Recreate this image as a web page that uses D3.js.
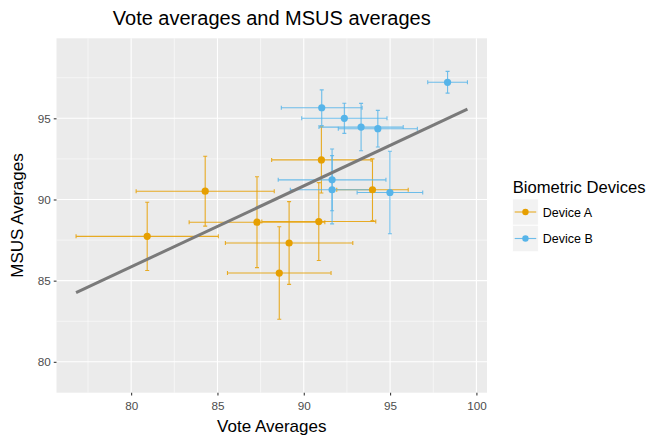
<!DOCTYPE html>
<html>
<head>
<meta charset="utf-8">
<script src="https://cdnjs.cloudflare.com/ajax/libs/d3/7.8.5/d3.min.js"></script>
<style>
    body { margin: 0; background: #fff; }
    svg { font-family: "Liberation Sans", Arial, sans-serif; }
</style>
</head>
<body>
<svg id="chart" width="649" height="437"></svg>
<script>
const devices = ["Device A", "Device B"]
const colors = ["#E69F00", "#56B4E9"]

// Device A
const voteA = [80.93, 84.29, 87.29, 90.87, 91.02, 93.98, 89.15, 88.58]
const voteErrA = [4.12, 4.0, 3.93, 3.3, 2.88, 2.07, 3.69, 3.0]
const msusA = [87.73, 90.51, 88.6, 88.64, 92.44, 90.6, 87.32, 85.47]
const msusErrA = [2.1, 2.15, 2.8, 2.4, 2.04, 1.9, 2.55, 2.85]

// Device B
const voteB = [98.33, 91.04, 92.35, 93.32, 94.29, 91.64, 91.64, 94.99]
const voteErrB = [1.15, 2.34, 2.47, 2.44, 2.29, 3.12, 2.42, 1.9]
const msusB = [97.22, 95.65, 95.0, 94.46, 94.36, 91.21, 90.6, 90.43]
const msusErrB = [0.67, 1.1, 0.93, 1.46, 1.13, 1.9, 2.1, 2.54]

const xTicks = [80, 85, 90, 95, 100]
const yTicks = [80, 85, 90, 95]

const rows = []
const addRows = (dev, xs, xe, ys, ye) => xs.forEach((x, i) => rows.push({ device: dev, x: x, xe: xe[i], y: ys[i], ye: ye[i] }))
addRows(devices[0], voteA, voteErrA, msusA, msusErrA)
addRows(devices[1], voteB, voteErrB, msusB, msusErrB)

const svg = d3.select("#chart")
const margin = { top: 38.3, right: 162, bottom: 44.3, left: 56.5 }
const width = +svg.attr("width") - margin.left - margin.right
const height = +svg.attr("height") - margin.top - margin.bottom

// linear fit over all points (lm with 95% band, band only used for the y range)
const n = rows.length
const mx = d3.mean(rows, d => d.x)
const my = d3.mean(rows, d => d.y)
const sxx = d3.sum(rows, d => (d.x - mx) ** 2)
const slope = d3.sum(rows, d => (d.x - mx) * (d.y - my)) / sxx
const intercept = my - slope * mx
const sse = d3.sum(rows, d => (d.y - intercept - slope * d.x) ** 2)
const s = Math.sqrt(sse / (n - 2))
const tq = 2.1448

const xRange = [d3.min(rows, d => d.x - d.xe), d3.max(rows, d => d.x + d.xe)]
const fit = d3.range(0, 81).map(i => {
    const x = xRange[0] + (xRange[1] - xRange[0]) * i / 80
    const yhat = intercept + slope * x
    const se = tq * s * Math.sqrt(1 / n + (x - mx) ** 2 / sxx)
    return { x: x, y: yhat, lo: yhat - se, hi: yhat + se }
})
const yRange = [
    Math.min(d3.min(rows, d => d.y - d.ye), d3.min(fit, d => d.lo)),
    Math.max(d3.max(rows, d => d.y + d.ye), d3.max(fit, d => d.hi))
]
const expand = r => [r[0] - 0.05 * (r[1] - r[0]), r[1] + 0.05 * (r[1] - r[0])]

const x = d3.scaleLinear().domain(expand(xRange)).range([0, width])
const y = d3.scaleLinear().domain(expand(yRange)).range([height, 0])
const color = d3.scaleOrdinal().domain(devices).range(colors)

const g = svg.append("g").attr("transform", "translate(" + margin.left + "," + margin.top + ")")

g.append("rect").attr("width", width).attr("height", height).attr("fill", "#EBEBEB")

const minor = v => v.slice(0, -1).map((t, i) => (t + v[i + 1]) / 2)
const xMinor = minor(d3.range(75, 106, 5)).filter(v => x(v) > 0 && x(v) < width)
const yMinor = minor(d3.range(75, 106, 5)).filter(v => y(v) > 0 && y(v) < height)

g.selectAll(".xminor").data(xMinor).enter().append("line")
    .attr("x1", d => x(d)).attr("x2", d => x(d)).attr("y1", 0).attr("y2", height)
    .attr("stroke", "#fff").attr("stroke-width", 0.55)
g.selectAll(".yminor").data(yMinor).enter().append("line")
    .attr("y1", d => y(d)).attr("y2", d => y(d)).attr("x1", 0).attr("x2", width)
    .attr("stroke", "#fff").attr("stroke-width", 0.55)
g.selectAll(".xmajor").data(xTicks).enter().append("line")
    .attr("x1", d => x(d)).attr("x2", d => x(d)).attr("y1", 0).attr("y2", height)
    .attr("stroke", "#fff").attr("stroke-width", 1.1)
g.selectAll(".ymajor").data(yTicks).enter().append("line")
    .attr("y1", d => y(d)).attr("y2", d => y(d)).attr("x1", 0).attr("x2", width)
    .attr("stroke", "#fff").attr("stroke-width", 1.1)

// error bars
const cap = 2
const bars = g.append("g").attr("fill", "none").attr("stroke-width", 1.1)
rows.forEach(d => {
    const c = color(d.device)
    const path = d3.path()
    path.moveTo(x(d.x) - cap, y(d.y + d.ye)); path.lineTo(x(d.x) + cap, y(d.y + d.ye))
    path.moveTo(x(d.x), y(d.y + d.ye)); path.lineTo(x(d.x), y(d.y - d.ye))
    path.moveTo(x(d.x) - cap, y(d.y - d.ye)); path.lineTo(x(d.x) + cap, y(d.y - d.ye))
    path.moveTo(x(d.x - d.xe), y(d.y) - cap); path.lineTo(x(d.x - d.xe), y(d.y) + cap)
    path.moveTo(x(d.x - d.xe), y(d.y)); path.lineTo(x(d.x + d.xe), y(d.y))
    path.moveTo(x(d.x + d.xe), y(d.y) - cap); path.lineTo(x(d.x + d.xe), y(d.y) + cap)
    bars.append("path").attr("d", path.toString()).attr("stroke", c).attr("stroke-opacity", 0.85)
})

g.selectAll(".pt").data(rows).enter().append("circle")
    .attr("cx", d => x(d.x)).attr("cy", d => y(d.y)).attr("r", 3.6)
    .attr("fill", d => color(d.device))

g.append("path")
    .datum([fit[0], fit[fit.length - 1]])
    .attr("d", d3.line().x(d => x(d.x)).y(d => y(d.y)))
    .attr("fill", "none").attr("stroke", "#7A7A7A").attr("stroke-width", 3)

// axes
const axisX = g.append("g").attr("transform", "translate(0," + height + ")")
    .call(d3.axisBottom(x).tickValues(xTicks).tickSize(2.75).tickPadding(3))
const axisY = g.append("g")
    .call(d3.axisLeft(y).tickValues(yTicks).tickSize(2.75).tickPadding(3))
for (const a of [axisX, axisY]) {
    a.select(".domain").remove()
    a.selectAll(".tick line").attr("stroke", "#333333").attr("stroke-width", 1.07)
    a.selectAll(".tick text").attr("fill", "#4D4D4D").style("font-size", "11.7px")
        .style("font-family", "Liberation Sans, Arial, sans-serif")
}
axisX.selectAll(".tick text").attr("dy", "0.95em")

svg.append("text").attr("x", margin.left + width / 2).attr("y", 25)
    .attr("text-anchor", "middle").style("font-size", "20px").attr("fill", "#000")
    .text("Vote averages and MSUS averages")

svg.append("text").attr("x", margin.left + width / 2).attr("y", 432)
    .attr("text-anchor", "middle").style("font-size", "17px").attr("fill", "#000")
    .text("Vote Averages")

svg.append("text")
    .attr("transform", "translate(23," + (margin.top + height / 2) + ") rotate(-90)")
    .attr("text-anchor", "middle").style("font-size", "17px").attr("fill", "#000")
    .text("MSUS Averages")

// legend
const legend = svg.append("g").attr("transform", "translate(512.7,0)")
legend.append("text").attr("x", 0).attr("y", 193).style("font-size", "16.6px").attr("fill", "#000")
    .text("Biometric Devices")
const item = legend.selectAll(".item").data(devices).enter().append("g")
    .attr("transform", (d, i) => "translate(0," + (199 + i * 26.5) + ")")
item.append("rect").attr("width", 25.5).attr("height", 26).attr("fill", "#F2F2F2")
    .attr("stroke", "#fff").attr("stroke-width", 0.6)
item.append("line").attr("x1", 2).attr("x2", 23.5).attr("y1", 13).attr("y2", 13)
    .attr("stroke", d => color(d)).attr("stroke-width", 1.1).attr("stroke-opacity", 0.85)
item.append("circle").attr("cx", 12.75).attr("cy", 13).attr("r", 3.2).attr("fill", d => color(d))
item.append("text").attr("x", 30).attr("y", 17.5).style("font-size", "12.5px").attr("fill", "#000")
    .text(d => d)
</script>
</body>
</html>
